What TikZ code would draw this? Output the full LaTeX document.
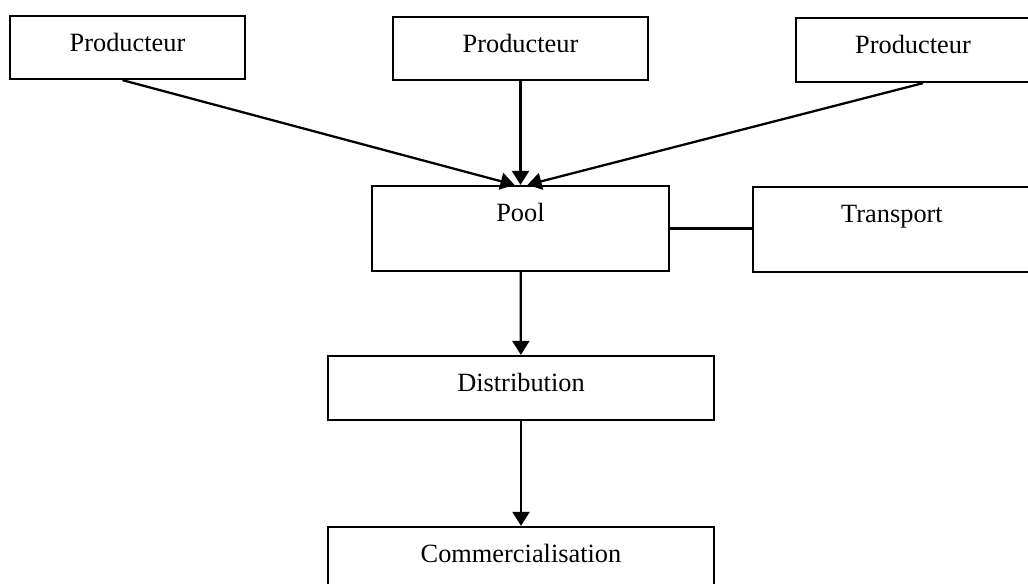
\documentclass[tikz,border=0pt]{standalone}
\usepackage{fontspec}
\setmainfont{Liberation Serif}
\usetikzlibrary{arrows.meta,positioning}

\begin{document}
\begin{tikzpicture}[
      x=0.02cm, y=-0.02cm,
      >={Triangle[length=0.28cm,width=0.34cm]},
      box/.style = {draw, line width=1.3pt, inner sep=0pt,
        font=\fontsize{15}{18}\selectfont, text height=0.71cm},
      flow/.style = {->, line width=1.3pt},
      link/.style = {line width=1.3pt}
      ]
      \useasboundingbox (0,0) rectangle (1028,584);
      \node[box, minimum width=4.7cm, text depth=0.55cm] (prod1) at (127.5,47.5) {Producteur};
      \node[box, minimum width=5.1cm, text depth=0.55cm] (prod2) at (520.5,48.5) {Producteur};
      \node[box, minimum width=4.68cm, text depth=0.57cm] (prod3) at (913,50) {Producteur};
      \node[box, minimum width=5.94cm, text depth=0.99cm] (pool) at (520.5,228.5) {Pool};
      \node[box, minimum width=5.56cm, text depth=0.99cm] (transport) at (892,229.5) {Transport};
      \node[box, minimum width=7.72cm, text depth=0.57cm] (distrib) at (521,388) {Distribution};
      \node[box, minimum width=7.72cm, text depth=0.69cm] (commerc) at (521,562) {Commercialisation};

      \draw[flow] ([xshift=-0.1cm]prod1.south) -- ([xshift=-0.12cm]pool.north);
      \draw[flow] (prod2) -- (pool);
      \draw[flow] ([xshift=0.2cm]prod3.south) -- ([xshift=0.14cm]pool.north);
      \draw[link] (pool.east) -- (pool.east -| transport.west);
      \draw[flow] (pool) -- (distrib);
      \draw[flow] (distrib) -- (commerc);
    \end{tikzpicture}
\end{document}
